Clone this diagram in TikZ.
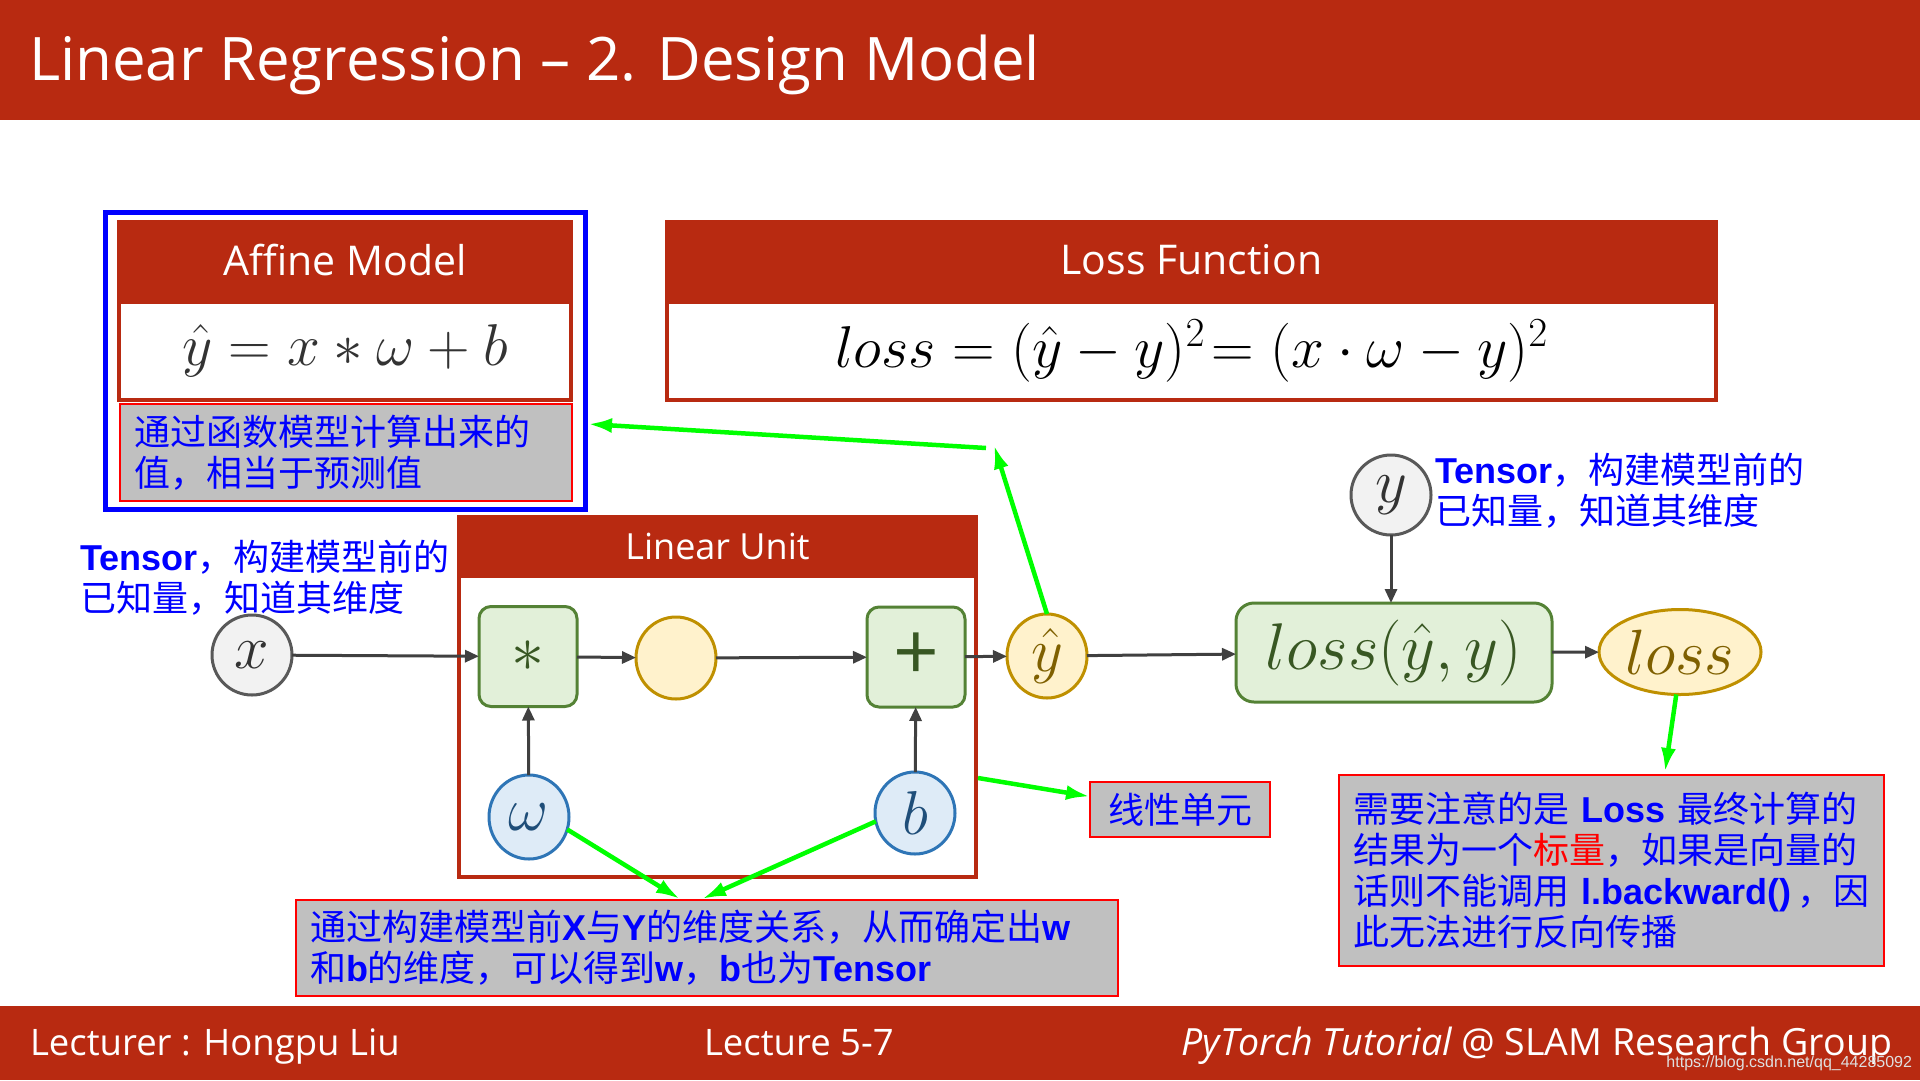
\RequirePackage{fix-cm}
\documentclass[tikz,border=0pt]{standalone}
\usepackage{fontspec}
\setmainfont{Open Sans}
\newfontfamily\cjk{Noto Sans CJK SC}
\newfontfamily\lat{Liberation Sans}
\usetikzlibrary{arrows.meta,positioning,fit,shapes.geometric}

\definecolor{slidered}{RGB}{184,42,17}
\definecolor{notegray}{RGB}{192,192,192}
\definecolor{arrowgray}{RGB}{64,64,64}
\definecolor{greenfill}{RGB}{226,240,217}
\definecolor{greendraw}{RGB}{84,130,53}
\definecolor{greentext}{RGB}{56,87,35}
\definecolor{yellowfill}{RGB}{255,242,204}
\definecolor{yellowdraw}{RGB}{191,144,0}
\definecolor{yellowtext}{RGB}{127,96,0}
\definecolor{bluefill}{RGB}{222,235,247}
\definecolor{bluedraw}{RGB}{46,117,182}
\definecolor{bluetext}{RGB}{31,78,121}
\definecolor{grayfill}{RGB}{242,242,242}
\definecolor{graydraw}{RGB}{89,89,89}
\definecolor{hlgreen}{RGB}{0,255,0}

\newcommand{\sizept}[2]{\fontsize{#1}{#2}\selectfont}
\newcommand{\boldlat}[1]{{\lat\bfseries #1}}

\begin{document}
\begin{tikzpicture}[
    x=1pt, y=-1pt,
    every node/.style={inner sep=0pt, outer sep=0pt},
    bar/.style={fill=slidered, minimum width=1920pt, anchor=north west},
    hdr/.style={fill=slidered, text=white, minimum height=80pt, font=\sizept{41}{50}},
    body/.style={draw=slidered, line width=4pt, fill=white, minimum height=98pt},
    note/.style={draw=red, line width=2pt, fill=notegray, text=blue, align=left,
        inner xsep=14pt, font=\cjk\sizept{36}{41}},
    tensor/.style={text=blue, align=left, anchor=west, font=\cjk\sizept{36}{41}},
    inp/.style={circle, draw=graydraw, fill=grayfill, text=black!80, line width=3pt,
        minimum size=80pt, font=\sizept{62}{62}},
    param/.style={ellipse, draw=bluedraw, fill=bluefill, text=bluetext, line width=3pt,
        minimum width=80pt, minimum height=84pt, font=\sizept{62}{62}},
    val/.style={ellipse, draw=yellowdraw, fill=yellowfill, text=yellowtext, line width=3pt,
        minimum width=80pt, minimum height=84pt, font=\sizept{62}{62}},
    op/.style={rectangle, rounded corners=12pt, draw=greendraw, fill=greenfill, text=greentext,
        line width=3pt, minimum width=98pt, minimum height=100pt, font=\sizept{66}{66}},
    flow/.style={-{Triangle[length=14pt,width=12pt]}, draw=arrowgray, line width=3pt},
    hint/.style={-{Latex[length=24pt,width=15pt]}, draw=hlgreen, line width=4.5pt},
    foot/.style={text=white, font=\sizept{36.5}{40}}
]
\path[fill=white] (0,0) rectangle (1920,1080);
\useasboundingbox (0,0) rectangle (1920,1080);

% title and footer bars
\node[bar, minimum height=120pt] (topbar) at (0,0) {};
\node[anchor=base west, text=white, font=\sizept{60}{60}] (title) at (29,80) {Linear Regression – 2. Design Model};
\node[bar, minimum height=74pt] (footbar) at (0,1006) {};
\node[foot, anchor=base west] (lecturer) at (30,1055) {Lecturer : Hongpu Liu};
\node[foot, anchor=base west] (lecture) at (704,1055) {Lecture 5-7};
\node[foot, anchor=base east, font=\sizept{37.5}{40}] (group) at (1892,1055) {\itshape PyTorch Tutorial\upshape\ @ SLAM Research Group};
\node[anchor=base east, text=white!75!gray, font=\lat\sizept{16}{16}] (mark) at (1912,1067) {https://blog.csdn.net/qq\_44285092};

% affine model
\node[body, minimum width=452pt] (affbody) at (345,351) {\color{black!80}\sizept{59}{62}$\hat{y} = x \ast \omega + b$};
\node[hdr, minimum width=456pt] (affhead) at (345,260) {Affine Model};
\node[note, anchor=north west, text width=424pt, minimum height=97pt] (affnote) at (120,404)
    {通过函数模型计算出来的\\值，相当于预测值};
\node[fit=(affhead)(affnote), draw=blue, line width=5pt, inner xsep=12pt, inner ysep=8pt] (affframe) {};

% loss function
\node[body, minimum width=1049pt] (lossbody) at (1191.5,351) {\sizept{59}{62}$loss = (\hat{y}-y)^2\!= (x\cdot\omega - y)^2$};
\node[hdr, minimum width=1053pt] (losshead) at (1191.5,260) {Loss Function};

% linear unit
\node[draw=slidered, line width=4pt, minimum width=517pt, minimum height=360pt] (linbody) at (717.5,697) {};
\node[hdr, minimum width=521pt, minimum height=63pt, font=\sizept{36}{44}] (linhead) at (717.5,546.5) {Linear Unit};

\node[tensor] (tensorL) at (80,578) {\boldlat{Tensor}，构建模型前的\\已知量，知道其维度};
\node[tensor] (tensorR) at (1435,490.5) {\boldlat{Tensor}，构建模型前的\\已知量，知道其维度};

% graph
\node[inp] (x) at (252,655) {$x$};
\node[op] (mul) at (528,656.5) {$\ast$};
\node[val, minimum height=82pt] (mid) at (676,658) {};
\node[op, minimum height=100pt, font=\sizept{80}{80}] (add) at (916,657) {+};
\node[param] (w) at (529,817) {$\omega$};
\node[param, minimum height=82pt] (b) at (915,813) {$b$};
\node[val] (yhat) at (1047,656) {$\hat{y}$};
\node[op, rounded corners=18pt, minimum width=316pt, minimum height=99pt] (lossf) at (1394,652.5) {$loss(\hat{y},y)$};
\node[val, minimum width=162pt, minimum height=85pt, font=\sizept{64}{64}] (loss) at (1680,652) {$loss$};
\node[inp] (y) at (1391,495) {$y$};

\draw[flow] (x) -- (mul);
\draw[flow] (mul) -- (mid);
\draw[flow] (mid) -- (add);
\draw[flow] (add) -- (yhat);
\draw[flow] (yhat) -- (lossf);
\draw[flow] (lossf) -- (loss);
\draw[flow] (w) -- (mul);
\draw[flow] (b) -- (add);
\draw[flow] (y) -- (y |- lossf.north);

% notes
\node[note, align=center, minimum width=180pt, minimum height=55pt] (linnote) at (1180,809.5) {线性单元};
\node[note, anchor=north west, text width=794pt, minimum height=96pt] (wbnote) at (296,900)
    {通过构建模型前\boldlat{X}与\boldlat{Y}的维度关系，从而确定出\boldlat{w}\\和\boldlat{b}的维度，可以得到\boldlat{w}，\boldlat{b}也为\boldlat{Tensor}};
\node[note, anchor=north west, text width=517pt, minimum height=191pt] (lossnote) at (1339,775)
    {需要注意的是 \boldlat{Loss} 最终计算的\\结果为一个\textcolor{red}{标量}，如果是向量的\\话则不能调用 \boldlat{l.backward()}\,，因\\此无法进行反向传播};

% green hints
\coordinate (gup) at (994,445);
\coordinate (gleft) at (986,448);
\coordinate (gaff) at (588,424);
\coordinate (glin) at (978,778);
\coordinate (gw) at (680,899);
\coordinate (gb) at (702,899);
\coordinate (gloss) at (1665,772);
\draw[hint] (yhat.north) -- (gup);
\draw[hint] (gleft) -- (gaff);
\draw[hint] (glin) -- ([yshift=13pt]linnote.west);
\draw[hint] (w.-18) -- (gw);
\draw[hint] (b.192) -- (gb);
\draw[hint] (loss.265) -- (gloss);
\end{tikzpicture}
\end{document}
